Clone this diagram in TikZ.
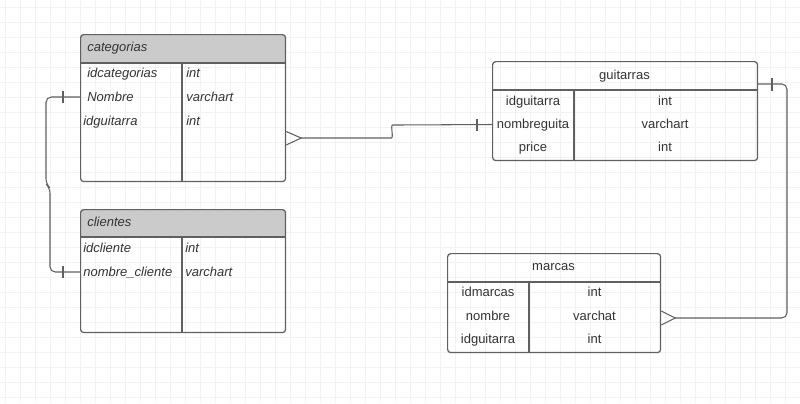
\documentclass[tikz,border=0pt]{standalone}
\usepackage{fontspec}
\setmainfont{Liberation Sans}
\usetikzlibrary{calc}
\definecolor{gridgray}{HTML}{F2F2F2}
\definecolor{hdrgray}{HTML}{CBCBCB}
\definecolor{linegray}{HTML}{606060}
\definecolor{txtgray}{HTML}{333333}
\tikzset{
  gridline/.style={draw=gridgray, line width=0.4pt},
  tbl/.style={draw=linegray, line width=0.7pt, rounded corners=1.8pt, inner sep=0pt, anchor=north west},
  sepline/.style={draw=linegray, line width=0.7pt},
  fld/.style={inner sep=0pt, text height=0.72em, text depth=0.21em, text=txtgray, font=\fontsize{7.4}{9}\selectfont},
  fldl/.style={fld, anchor=west, font=\fontsize{7.4}{9}\selectfont\itshape},
  rel/.style={draw=linegray, line width=0.6pt, rounded corners=3pt},
  bar/.style={draw=linegray, line width=0.6pt},
}
\begin{document}
\begin{tikzpicture}[x=0.02cm, y=-0.02cm]
\useasboundingbox[fill=white] (0,0) rectangle (800,403);
\foreach \gx in {5,20,...,800} \draw[gridline] (\gx,0) -- (\gx,403);
\foreach \gy in {7,22,...,403} \draw[gridline] (0,\gy) -- (800,\gy);

% headers
\fill[hdrgray, rounded corners=1.8pt] (80,34) rectangle (285,63);
\fill[hdrgray] (80,50) rectangle (285,63);
\fill[hdrgray, rounded corners=1.8pt] (80,209) rectangle (285,237);
\fill[hdrgray] (80,225) rectangle (285,237);

% tables
\node[tbl, minimum width=4.1cm, minimum height=2.94cm](categorias) at (80,34) {};
\node[tbl, minimum width=4.1cm, minimum height=2.46cm](clientes) at (80,209) {};
\node[tbl, minimum width=5.3cm, minimum height=1.98cm](guitarras) at (492,61) {};
\node[tbl, minimum width=4.26cm, minimum height=1.98cm](marcas) at (447,253) {};

\draw[sepline] (categorias.west |- 0,63) -- (categorias.east |- 0,63);
\draw[sepline] (182,63) -- (categorias.south -| 182,0);
\draw[sepline] (clientes.west |- 0,237) -- (clientes.east |- 0,237);
\draw[sepline] (182,237) -- (clientes.south -| 182,0);
\draw[sepline] (guitarras.west |- 0,90) -- (guitarras.east |- 0,90);
\draw[sepline] (574,90) -- (guitarras.south -| 574,0);
\draw[sepline] (marcas.west |- 0,282) -- (marcas.east |- 0,282);
\draw[sepline] (529,282) -- (marcas.south -| 529,0);

% categorias
\node[fldl](cattitle) at (87,47) {categorias};
\node[fldl](idcategorias) at (87,73) {idcategorias};
\node[fldl](catnombre) at (87,97) {Nombre};
\node[fldl](catidguitarra) at (83,121) {idguitarra};
\node[fldl](cattype1) at (186,73) {int};
\node[fldl](cattype2) at (186,97) {varchart};
\node[fldl](cattype3) at (186,121) {int};

% clientes
\node[fldl](clititle) at (87,222) {clientes};
\node[fldl](idcliente) at (83,248) {idcliente};
\node[fldl](nombrecliente) at (83,272) {nombre\_cliente};
\node[fldl](clitype1) at (185,248) {int};
\node[fldl](clitype2) at (185,272) {varchart};

% guitarras
\node[fld](guititle) at (624.5,75) {guitarras};
\node[fld](idguitarra) at (533,101) {idguitarra};
\node[fld](nombreguita) at (533,124.5) {nombreguita};
\node[fld](price) at (533,147.5) {price};
\node[fld](guitype1) at (665,101) {int};
\node[fld](guitype2) at (665,124.5) {varchart};
\node[fld](guitype3) at (665,147.5) {int};

% marcas
\node[fld](marctitle) at (553.5,266) {marcas};
\node[fld](idmarcas) at (488,292.5) {idmarcas};
\node[fld](marcnombre) at (488,316) {nombre};
\node[fld](marcidguitarra) at (488,339.5) {idguitarra};
\node[fld](marctype1) at (594.5,292.5) {int};
\node[fld](marctype2) at (594.5,316) {varchat};
\node[fld](marctype3) at (594.5,339.5) {int};

% categorias -> guitarras
\coordinate (catfoot) at ($(categorias.east |- 0,138)+(15,0)$);
\draw[bar] (categorias.east |- 0,131.5) -- (catfoot) -- (categorias.east |- 0,145);
\draw[rel] (catfoot) -- (386,138) .. controls (394,138) and (390,125) .. (398,125) -- (guitarras.west |- nombreguita);
\draw[bar] (477,119) -- (477,131);

% categorias -> clientes
\draw[rel] (categorias.west |- catnombre) -- (46,97) -- (46,184) -- (50,188) -- (50,272) -- (clientes.west |- nombrecliente);
\draw[bar] (63,91) -- (63,103);
\draw[bar] (63,266) -- (63,278);

% guitarras -> marcas
\coordinate (marcfoot) at ($(marcas.east |- 0,318)+(14,0)$);
\draw[rel] (guitarras.east |- 0,84) -- (787,84) -- (787,318) -- (marcfoot);
\draw[bar] (marcas.east |- 0,311) -- (marcfoot) -- (marcas.east |- 0,325);
\draw[bar] (772,78) -- (772,91);

\end{tikzpicture}
\end{document}
